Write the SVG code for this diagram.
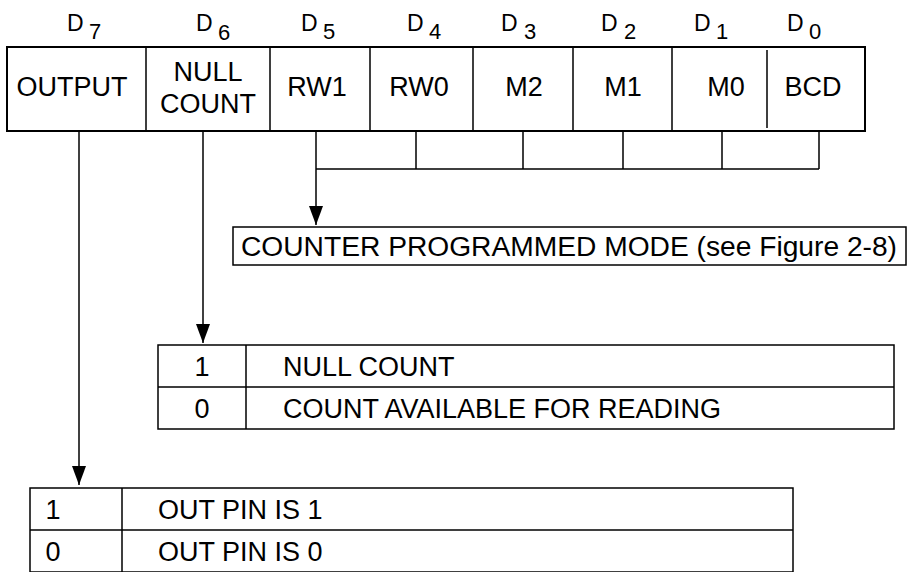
<svg xmlns="http://www.w3.org/2000/svg" width="916" height="572" viewBox="0 0 916 572">
<style>
  .bx { fill: #fff; stroke: #000; stroke-width: 2; }
  .ln { fill: none; stroke: #000; stroke-width: 1.5; }
  .t { font-family: "Liberation Sans", Arial, sans-serif; font-size: 27px; fill: #000; }
  .c { text-anchor: middle; }
  .d { font-family: "Liberation Sans", Arial, sans-serif; font-size: 23px; fill: #000; }
  .s { font-family: "Liberation Sans", Arial, sans-serif; font-size: 22px; fill: #000; }
</style>
<defs>
  <marker id="ah" markerWidth="19" markerHeight="14" refX="19" refY="7" orient="auto" markerUnits="userSpaceOnUse" viewBox="0 0 19 14">
    <path d="M0,0 L19,7 L0,14 Z" fill="#000"/>
  </marker>
</defs>
<rect width="916" height="572" fill="#fff"/>

<g id="bit-labels">
  <text class="d" x="67" y="31">D</text><text class="s" x="89" y="39">7</text>
  <text class="d" x="196" y="31">D</text><text class="s" x="218" y="40">6</text>
  <text class="d" x="301" y="31">D</text><text class="s" x="323" y="39">5</text>
  <text class="d" x="407" y="31">D</text><text class="s" x="429" y="39">4</text>
  <text class="d" x="501" y="31">D</text><text class="s" x="524" y="39">3</text>
  <text class="d" x="601" y="31">D</text><text class="s" x="624" y="39">2</text>
  <text class="d" x="694" y="31">D</text><text class="s" x="716" y="39">1</text>
  <text class="d" x="787" y="31">D</text><text class="s" x="809" y="39">0</text>
</g>

<g id="register">
  <rect class="bx" x="7" y="47" width="858" height="84"/>
  <path class="ln" d="M146,47 V131 M270,47 V131 M370,47 V131 M473,47 V131 M573,47 V131 M672,47 V131 M767,50 V128"/>
  <text class="t c" x="72" y="96">OUTPUT</text>
  <text class="t c" x="208" y="81">NULL</text>
  <text class="t c" x="208" y="113">COUNT</text>
  <text class="t c" x="317" y="96">RW1</text>
  <text class="t c" x="419" y="96">RW0</text>
  <text class="t c" x="524" y="96">M2</text>
  <text class="t c" x="623" y="96">M1</text>
  <text class="t c" x="726" y="96">M0</text>
  <text class="t c" x="813" y="96">BCD</text>
</g>

<g id="counter-mode">
  <rect class="ln" x="233" y="227" width="673" height="38"/>
  <text class="t" x="241" y="256" font-size="28" textLength="656" lengthAdjust="spacingAndGlyphs">COUNTER PROGRAMMED MODE (see Figure 2-8)</text>
</g>

<g id="null-count-table">
  <rect class="ln" x="158" y="345" width="736" height="84"/>
  <path class="ln" d="M158,387 H894 M246,345 V429"/>
  <text class="t c" x="202" y="376">1</text>
  <text class="t" x="283" y="376">NULL COUNT</text>
  <text class="t c" x="202" y="418">0</text>
  <text class="t" x="283" y="418">COUNT AVAILABLE FOR READING</text>
</g>

<g id="output-table">
  <rect class="ln" x="30" y="488" width="763" height="84"/>
  <path class="ln" d="M30,530 H793 M122,488 V572"/>
  <text class="t c" x="53" y="519">1</text>
  <text class="t" x="158" y="519">OUT PIN IS 1</text>
  <text class="t c" x="53" y="561">0</text>
  <text class="t" x="158" y="561">OUT PIN IS 0</text>
</g>

<g id="connectors">
  <path class="ln" d="M416,131 V169 M523,131 V169 M623,131 V169 M722,131 V169 M819,131 V169 M316,169 H819"/>
  <path class="ln" d="M316,131 V225" marker-end="url(#ah)"/>
  <path class="ln" d="M203,131 V343" marker-end="url(#ah)"/>
  <path class="ln" d="M79,131 V485" marker-end="url(#ah)"/>
</g>
</svg>
